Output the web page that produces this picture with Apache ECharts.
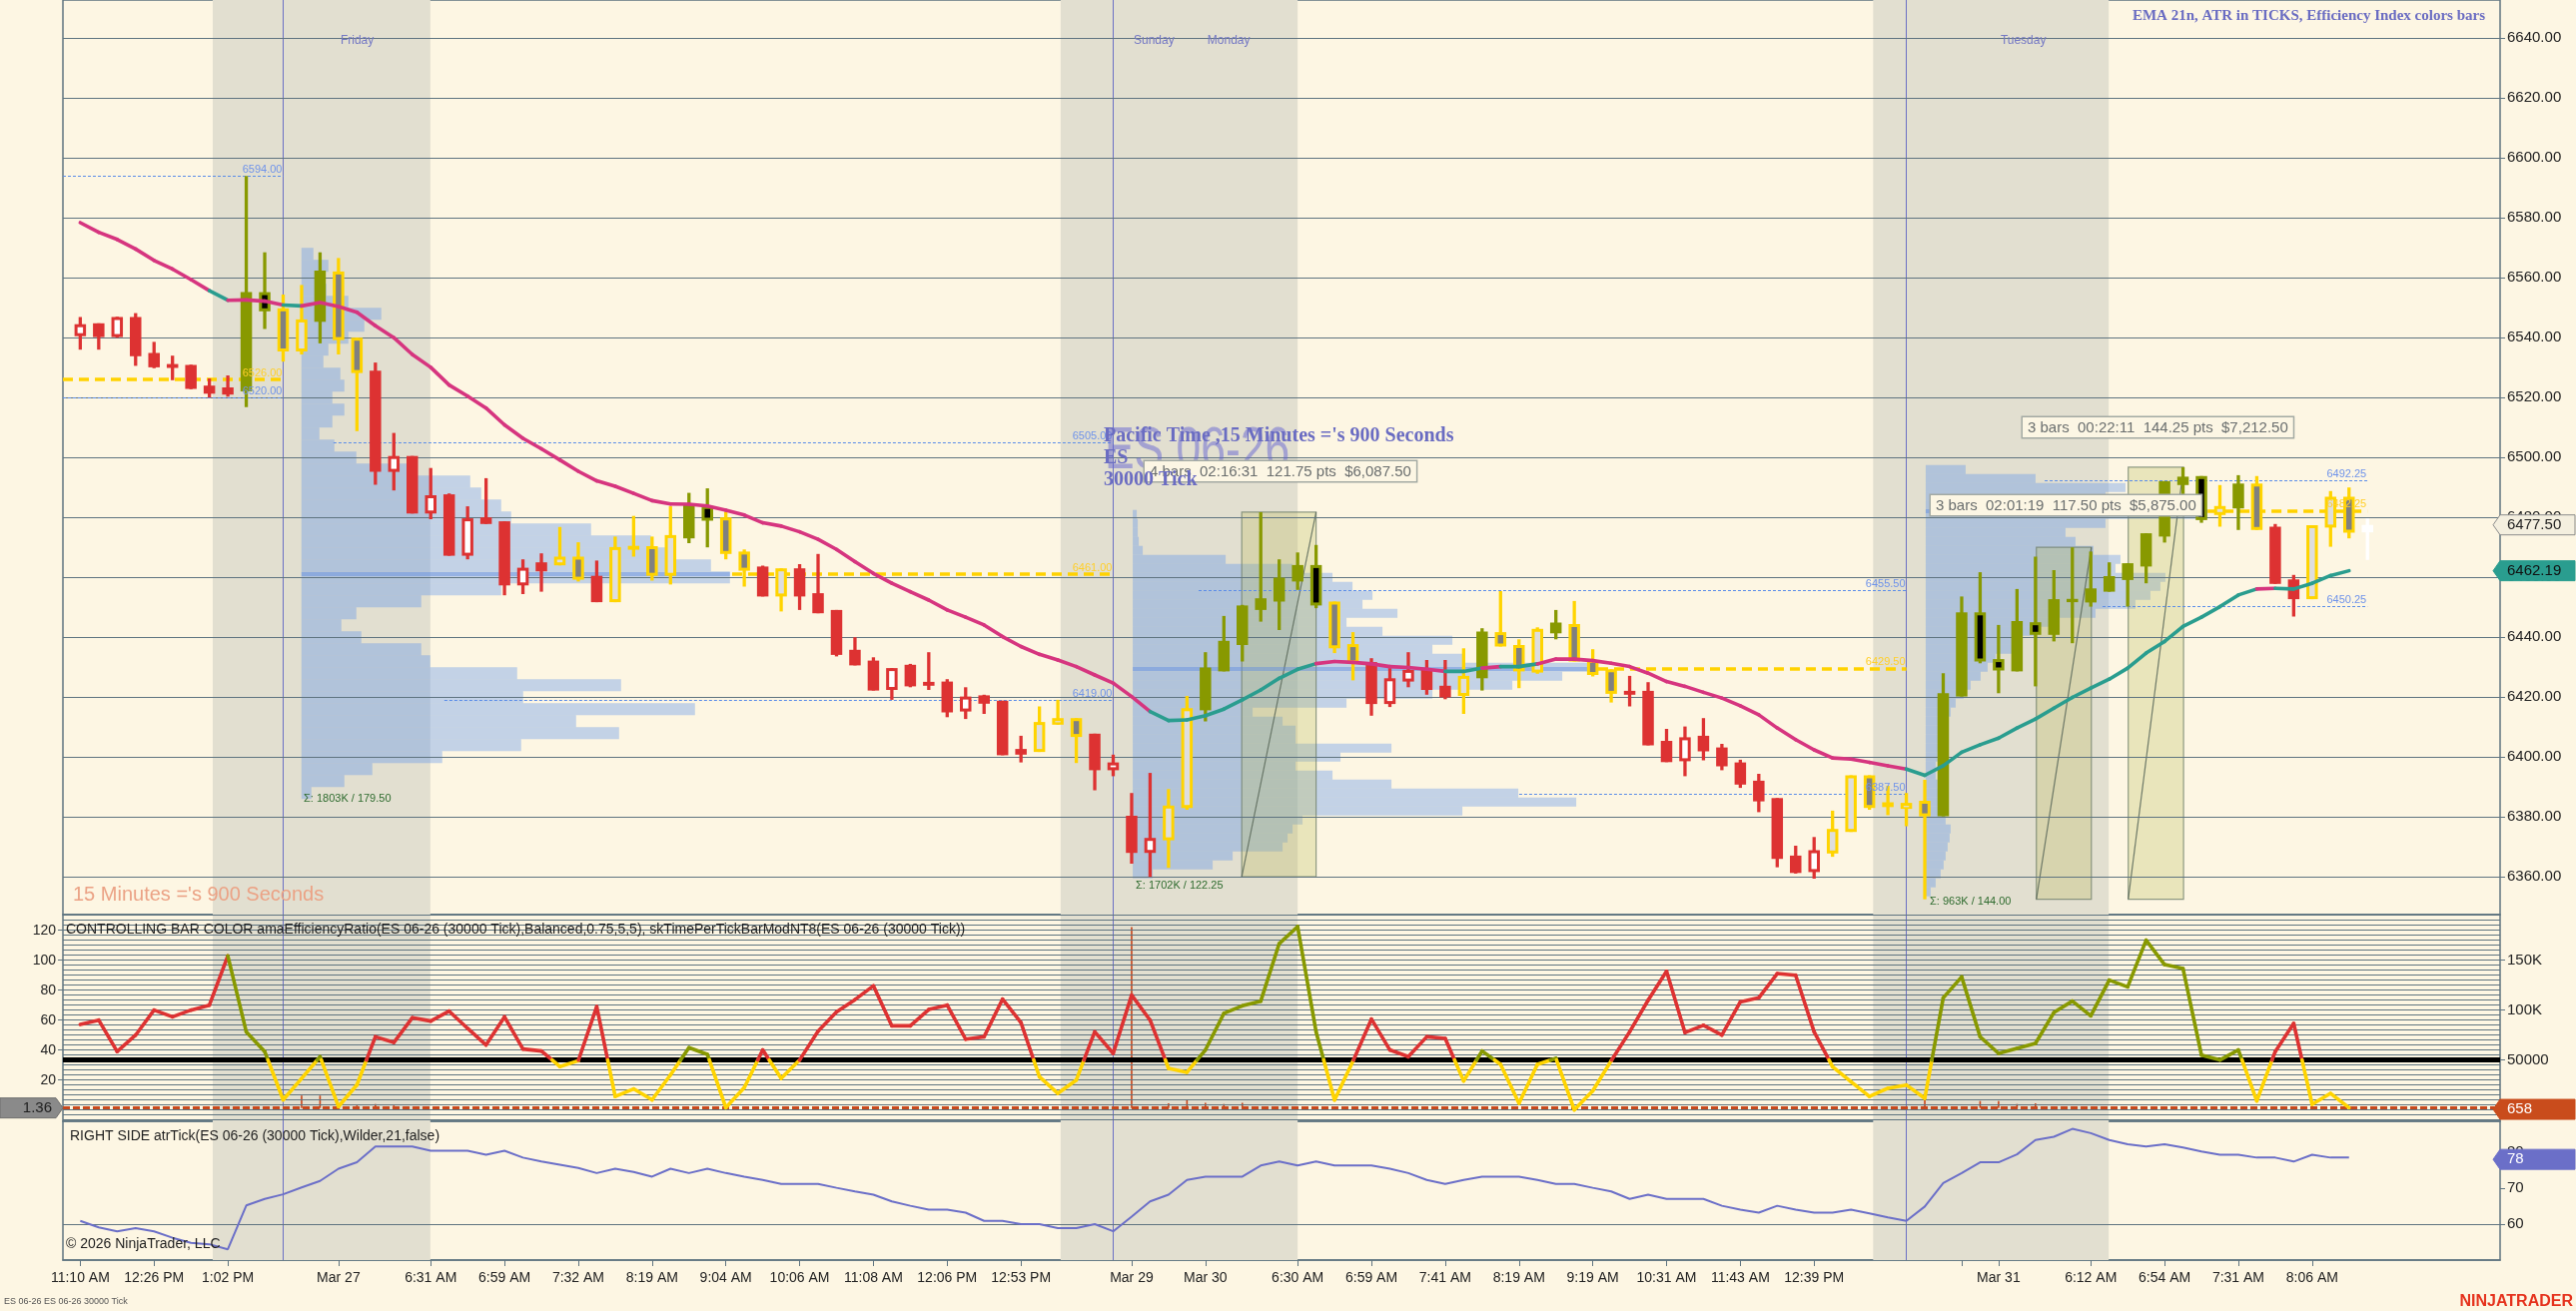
<!DOCTYPE html>
<html>
<head>
<meta charset="utf-8">
<title>ES 06-26 30000 Tick</title>
<script src="https://cdn.jsdelivr.net/npm/echarts@6/dist/echarts.min.js"></script>
<style>
html,body{margin:0;padding:0;background:#fdf6e3;overflow:hidden;}
#chart{width:2579px;height:1313px;}
</style>
</head>
<body>
<div id="chart"></div>
<script>
// ---------------- DATA ----------------
const opens = [6540.5,6544.8,6540.2,6546.9,6534.9,6531.2,6530.9,6524.0,6523.4,6522.1,
 6555.2,6549.8,6535.4,6545.3,6562.1,6540.0,6529.0,6495.2,6500.5,6481.3,
 6487.7,6467.2,6480.0,6478.7,6457.3,6465.0,6464.0,6466.9,6460.5,6451.7,
 6469.2,6470.4,6460.5,6473.0,6483.8,6480.0,6468.6,6463.6,6453.6,6463.0,
 6454.7,6449.1,6435.8,6432.2,6422.4,6430.8,6425.1,6425.2,6415.2,6420.6,
 6418.8,6402.7,6401.7,6410.8,6413.0,6407.8,6395.6,6380.4,6368.0,6372.2,
 6383.0,6415.6,6428.6,6437.4,6449.1,6451.9,6458.6,6464.1,6451.9,6437.7,
 6431.7,6417.7,6425.2,6429.1,6423.8,6420.4,6426.3,6441.7,6437.4,6428.2,
 6441.3,6444.4,6432.4,6429.3,6422.1,6422.1,6405.4,6398.6,6407.1,6403.2,
 6398.2,6392.1,6386.3,6367.1,6361.6,6367.8,6375.0,6393.9,6383.3,6382.7,
 6385.4,6380.2,6420.2,6448.3,6432.7,6428.6,6445.0,6440.8,6451.7,6451.6,
 6455.2,6459.1,6463.6,6473.6,6490.8,6493.8,6480.8,6483.0,6491.3,6476.9,
 6459.3,6452.7,6476.6,6486.9,6475.0];
const highs = [6546.9,6544.8,6547.0,6548.2,6538.6,6534.0,6531.0,6526.4,6527.4,6594.0,
 6568.5,6554.4,6557.6,6568.5,6566.6,6540.0,6531.7,6508.2,6500.5,6496.5,
 6488.0,6483.7,6493.1,6478.7,6466.0,6468.0,6476.8,6471.7,6465.6,6473.6,
 6480.5,6473.6,6483.7,6488.2,6489.7,6481.9,6469.3,6463.9,6463.0,6464.4,
 6467.8,6449.1,6440.0,6433.3,6429.7,6431.1,6435.0,6426.0,6423.3,6420.8,
 6418.8,6407.1,6416.9,6419.1,6413.0,6407.8,6400.8,6388.0,6394.7,6389.3,
 6420.4,6435.0,6447.1,6450.8,6481.75,6466.0,6468.3,6470.8,6451.9,6441.7,
 6433.0,6429.7,6435.0,6432.4,6432.4,6436.3,6443.0,6455.4,6439.3,6443.3,
 6449.1,6452.1,6436.0,6429.3,6427.1,6425.0,6409.4,6410.2,6413.0,6404.4,
 6399.1,6394.4,6386.3,6370.4,6373.3,6382.1,6393.9,6393.9,6390.4,6388.0,
 6392.4,6428.0,6453.6,6461.7,6444.1,6456.1,6466.9,6462.4,6470.0,6468.6,
 6465.0,6464.7,6474.7,6492.1,6496.75,6493.8,6490.8,6494.1,6493.8,6477.8,
 6460.8,6477.4,6488.8,6490.0,6479.7];
const lows = [6536.0,6536.0,6540.0,6530.6,6529.8,6525.8,6522.8,6520.0,6520.3,6516.8,
 6542.9,6532.0,6534.4,6538.1,6534.4,6508.8,6490.9,6489.0,6481.3,6479.4,
 6467.2,6466.0,6477.8,6454.0,6454.4,6455.2,6464.0,6458.6,6451.7,6451.7,
 6466.9,6458.9,6457.6,6471.4,6470.0,6466.0,6456.9,6453.6,6448.6,6449.1,
 6448.0,6433.6,6430.6,6422.2,6419.1,6423.3,6422.4,6413.3,6412.7,6414.4,
 6400.6,6398.2,6401.7,6410.8,6398.0,6388.9,6393.6,6364.4,6360.0,6363.0,
 6382.4,6411.9,6428.6,6431.9,6445.2,6442.4,6455.8,6449.7,6434.7,6425.6,
 6413.8,6416.7,6423.3,6420.8,6419.3,6414.4,6422.2,6436.9,6423.0,6427.8,
 6439.3,6431.9,6426.9,6418.2,6416.9,6403.9,6398.3,6393.6,6398.9,6395.6,
 6389.7,6381.6,6363.2,6361.1,6359.4,6366.7,6375.0,6382.4,6380.6,6376.9,
 6352.5,6380.2,6420.2,6431.3,6421.3,6428.6,6423.6,6438.6,6438.0,6450.2,
 6455.2,6450.2,6458.0,6471.6,6487.4,6478.2,6476.9,6475.8,6475.8,6457.8,
 6446.9,6452.7,6470.2,6473.0,6465.8];
const closes = [6544.5,6540.2,6546.9,6533.8,6530.1,6529.9,6522.9,6521.3,6521.0,6555.2,
 6548.8,6535.4,6546.1,6562.4,6539.2,6528.2,6495.2,6500.5,6481.3,6487.4,
 6467.2,6479.7,6477.8,6457.3,6463.2,6462.0,6466.9,6459.2,6451.7,6470.1,
 6470.5,6460.5,6474.1,6484.2,6478.9,6467.8,6462.2,6453.6,6463.0,6453.6,
 6448.0,6434.1,6430.6,6422.2,6429.7,6423.6,6423.8,6414.9,6420.2,6417.8,
 6400.6,6400.8,6411.7,6413.0,6406.7,6395.6,6398.2,6368.0,6373.0,6383.8,
 6416.3,6429.9,6438.8,6450.6,6453.0,6459.9,6464.1,6450.6,6436.3,6431.3,
 6417.7,6426.3,6429.1,6422.4,6419.9,6427.1,6441.9,6436.9,6428.6,6442.8,
 6444.9,6431.9,6427.4,6421.1,6420.8,6403.9,6398.3,6406.6,6401.9,6396.9,
 6390.8,6385.2,6366.0,6361.3,6368.9,6376.0,6393.9,6383.0,6384.9,6384.7,
 6380.2,6421.3,6448.3,6431.9,6428.9,6445.4,6440.8,6452.7,6452.8,6456.3,
 6460.4,6464.7,6474.7,6492.1,6493.6,6479.1,6483.8,6491.3,6475.8,6457.8,
 6452.7,6477.4,6486.9,6474.9,6477.5];
// bar colour from the efficiency index: r = red, y = yellow, g = olive, w = current bar
const barColors = ('rrrrrrrrr'+'gg'+'yy'+'g'+'yy'+'rrrrrrrrrr'+'yy'+'r'+'yyyy'+'gg'+'yy'+'r'+'y'+
  'rrrrrrrrrrrrr'+'yyy'+'rrrr'+'yy'+'ggggggg'+'yy'+'rrrrr'+'y'+'g'+'yyy'+'g'+'yyy'+
  'rrrrrrrrrrr'+'yyyyyy'+'ggggggggggggggg'+'y'+'g'+'y'+'rr'+'yyy'+'w').split('');
// EMA 21
const emaValues = [6578.4,6575.2,6572.8,6569.6,6565.8,6562.9,6559.4,6555.7,6552.5,6552.6,
 6552.2,6550.9,6550.6,6551.7,6550.4,6548.5,6544.0,6540.0,6534.4,6530.1,
 6524.2,6520.5,6516.5,6510.9,6506.4,6502.9,6499.2,6495.4,6492.2,6490.4,
 6488.0,6485.6,6484.5,6484.4,6483.8,6482.4,6480.8,6478.2,6477.1,6475.2,
 6472.7,6469.3,6465.2,6461.3,6458.0,6455.2,6452.4,6449.1,6446.7,6444.1,
 6440.2,6436.9,6434.3,6432.4,6430.2,6427.4,6424.7,6420.2,6415.2,6412.2,
 6412.4,6413.8,6416.0,6419.1,6422.4,6426.3,6429.3,6431.2,6431.9,6431.6,
 6431.1,6430.2,6429.9,6429.3,6428.6,6428.6,6429.7,6430.2,6430.2,6431.1,
 6432.7,6432.7,6432.2,6431.3,6430.2,6428.0,6425.2,6423.6,6421.6,6419.7,
 6417.1,6414.1,6409.7,6405.8,6402.4,6399.7,6399.3,6398.2,6397.1,6396.0,
 6393.9,6397.1,6401.6,6404.1,6406.3,6409.7,6412.7,6416.3,6419.9,6423.0,
 6426.0,6429.7,6434.7,6438.6,6443.6,6446.7,6450.2,6454.1,6456.1,6456.3,
 6456.1,6458.0,6460.6,6462.19];
// EMA segment colour (segment ending at bar i): m = magenta, t = teal
const emaColors = ('mmmmmmmmt'+'mmmt'+'mmmmmmmmmmmmmmmmmmmmmmmmmmmmmmmmmmmmmmmmmmmmmm'+
  'ttttttttt'+'mmmmmmm'+'tt'+'m'+'tt'+'mmmmmmmmmmmmmmmmmmmm'+'ttttttttttttttttttt'+'m'+'tttt').split('');
// amaEfficiencyRatio (left scale)
const effValues = [57.1,60,39,50,66.7,62.2,66.7,70,102.9,52.2,
 39,6.8,21.1,35.6,2.3,16.8,48.9,45.1,61.6,59.4,
 66,54.5,43.4,62.2,40.7,39.4,29,32.9,69,9,
 14.1,6.8,23.5,41.6,37.1,1.6,15,40.1,21.1,33.4,
 52.6,65.5,73.7,82.9,56.2,56.2,67.1,70,47.3,48.9,
 74,58.4,22.2,11.1,20,52.2,37.8,76.7,60,27.8,
 25.2,40.1,64.5,69.6,72.7,111.1,122.5,52.2,6.7,32.6,
 60.7,40.1,35.6,48.9,47.8,19.4,39.4,30.5,4.5,30.5,
 34.5,0.1,12.8,32.9,52.2,73.3,92.6,51.7,56.6,50,
 72.2,74.9,91.1,90,52.2,28.9,18.9,9,14.5,16.7,
 7.8,74.9,88.9,48.9,37.8,41.1,44.5,65.1,72.7,62.9,
 86.7,82.2,113.4,97.1,94.4,36.7,33.4,40.1,6.1,39,
 57.8,3.8,11.1,1.6];
const effThreshold = 33.33;
const effLevel = 1.36;
const spikeBars = [12,13,15,16,17,57,59,60,61,62,63,100,103,104,105,106];
const spikeValues = [9.6,9.6,3,4,3,122.2,4.4,6.8,4.8,4,4.8,8.2,6,6,4,4.4];
// atrTick (Wilder, 21)
const atrValues = [60.9,59.1,58,58.9,58,56.2,54.8,54.4,53,65.2,
 67,68.3,70.2,72,75.4,77.2,81.6,81.6,81.6,80.4,
 80.4,80.4,79.3,80.4,78.5,77.4,76.5,75.6,74.2,75.4,
 74.5,73.2,75.4,74.2,75.4,74.2,73.2,72.3,71.2,71.2,
 71.2,70.1,69.1,68.2,66.3,65.1,64,64,63.2,60.9,
 60.9,60,60,58.9,58.9,60,58,62.1,66.3,68.2,
 72.3,73.2,73.2,73.2,76.3,77.4,76.3,77.4,76.3,76.3,
 76.3,75.4,74.2,72.3,71.2,72.3,73.2,73.2,73.2,72.3,
 71.2,71.2,70.1,69.1,67,68.2,67,67,67,65.1,
 64,63.2,65.1,64,63.2,63.2,64,63,61.9,60.9,
 64.9,71.4,74.2,77.2,77.2,79.4,83.4,84.3,86.5,85.3,
 83.4,82.2,81.6,82.2,81.3,80.2,79.3,79.3,78.5,78.5,
 77.4,79.3,78.5,78.5];
// volume profiles (price level, relative volume)
const profile1Levels = [6388,6392,6396,6400,6404,6408,6412,6416,6420,6424,6428,6432,6436,6440,6444,6448,6452,6456,6460,6464,6468,6472,6476,6480,6484,6488,6492,6496,6500,6504,6508,6512,6516,6520,6524,6528,6532,6536,6540,6544,6548,6552,6556,6560,6564,6568];
const profile1Vol = [10,43,71,141,220,318,275,394,222,320,216,129,120,60,40,55,120,200,429,410,370,350,290,210,200,180,169,116,55,33,18,31,43,31,43,39,22,27,47,63,80,47,25,22,27,12];
const profile2Levels = [6361,6364,6367,6370,6373,6376,6379,6382,6385,6388,6391,6394,6397,6400,6403,6406,6409,6412,6415,6418,6421,6424,6427,6430,6433,6436,6439,6442,6445,6448,6451,6454,6457,6460,6463,6466,6469,6472,6475,6478,6481];
const profile2Vol = [20,80,100,150,155,160,170,330,444,386,259,200,163,208,259,163,163,150,120,214,300,380,430,466,330,300,320,250,214,265,230,240,220,200,160,93,10,6,5,5,4];
const profile3Levels = [6355,6358,6361,6364,6367,6370,6373,6376,6379,6382,6385,6388,6391,6394,6397,6400,6403,6406,6409,6412,6415,6418,6421,6424,6427,6430,6433,6436,6439,6442,6445,6448,6451,6454,6457,6460,6463,6466,6469,6472,6475,6478,6481,6484,6487,6490,6493,6496];
const profile3Vol = [5,10,15,18,20,22,24,25,20,18,16,14,12,10,10,12,14,15,18,20,25,30,38,45,55,62,70,90,97,110,130,170,210,225,235,240,190,195,168,150,140,180,282,182,180,200,110,40];
const profileStartBars = [11.99, 57.06, 100.05];
const profileRowSteps = [4, 3, 3];
const pocPrices = [6461, 6429.5, 6482.25];
const pocVols = [429, 466, 282];
const profileLabels = ['Σ: 1803K / 179.50', 'Σ: 1702K / 122.25', 'Σ: 963K / 144.00'];
// level lines: [price, fromBar, toBar]
const blueLines = [[6594,-0.94,11],[6520,-0.94,11],[6505,13.73,56],[6419,19.74,56],[6455.5,60.63,99],[6387.5,78.01,99],[6492.25,106.5,124],[6450.25,109.64,124]];
const yellowLines = [[6526,-0.94,11],[6461,35.34,56],[6429.5,82.29,99],[6482.25,115.33,124]];
// ruler drawings: [fromBar, toBar, low, high]
const drawings = [[62.97,67.0,6360.0,6481.75],[106.05,109.03,6352.5,6470.0],[111.03,114.03,6352.5,6496.75]];
const drawingLabels = ['4 bars  02:16:31  121.75 pts  $6,087.50','3 bars  02:01:19  117.50 pts  $5,875.00','3 bars  00:22:11  144.25 pts  $7,212.50'];
// sessions
const shadeRanges = [[7.18,18.98],[53.15,66.0],[97.2,109.97]];
const dayLines = [11, 56, 99];
const dayNames = ['Friday','Sunday','Monday','Tuesday'];
const dayBars = [14, 57, 61, 104];
// axes
const tickBars = [0,4,8,14,19,23,27,31,35,39,43,47,51,57,61,66,70,74,78,82,86,90,94,102,104,109,113,117,121];
const tickLabels = ['11:10 AM','12:26 PM','1:02 PM','Mar 27','6:31 AM','6:59 AM','7:32 AM','8:19 AM','9:04 AM','10:06 AM','11:08 AM','12:06 PM','12:53 PM','Mar 29','Mar 30','6:30 AM','6:59 AM','7:41 AM','8:19 AM','9:19 AM','10:31 AM','11:43 AM','12:39 PM','','Mar 31','6:12 AM','6:54 AM','7:31 AM','8:06 AM'];
const priceTicks = [6360,6380,6400,6420,6440,6460,6480,6500,6520,6540,6560,6580,6600,6620,6640];
const effTicks = [20,40,60,80,100,120];
const effRightTicks = [50000,100000,150000];
const atrInterval = 10;
const lastPrice = 6477.5, lastEma = 6462.19, lastEffRight = 658, lastAtr = 78;

// ---------------- STYLE ----------------
const XMIN = -0.94, XMAX = 131.19;
const PRICE_MIN = 6347.4, PRICE_MAX = 6652.73;
const EI_MIN = -7.53, EI_MAX = 130.47, EI_R = 1500;
const ATR_MIN = 50, ATR_MAX = 88.6;
const PX_PER_BAR = 18.466;
const SANS = '"Liberation Sans", Arial, sans-serif';
const SERIF = '"Liberation Serif", "Times New Roman", serif';
const GRID_C = '#5f7480';
const COLORS = {r:'#dd3232', y:'#ffd400', g:'#889900', w:'#ffffff'};
const EMA_C = {m:'#d6357f', t:'#2a9d8f'};

const chart = echarts.init(document.getElementById('chart'), null, {renderer:'canvas', width:2579, height:1313});

function renderCandle(params, api) {
  const i = api.value(0), o = api.value(1), h = api.value(2), l = api.value(3), c = api.value(4);
  const col = barColors[params.dataIndex];
  const main = COLORS[col];
  const pO = api.coord([i, o]), pC = api.coord([i, c]), pH = api.coord([i, h]), pL = api.coord([i, l]);
  const bw = 11.5, ww = 3.3, ow = 3;
  const x = pO[0];
  const top = Math.min(pO[1], pC[1]);
  const bh = Math.max(Math.abs(pO[1] - pC[1]), 3);
  const up = c >= o;
  const ch = [
    {type:'rect', shape:{x:x-ww/2, y:pH[1], width:ww, height:Math.max(pL[1]-pH[1],1)}, style:{fill:main}},
    {type:'rect', shape:{x:x-bw/2, y:top, width:bw, height:bh}, style:{fill:main}}
  ];
  let inner = null;
  if (col === 'r' && up) inner = '#ffffff';
  if (col === 'y') inner = up ? '#dedede' : '#808080';
  if (col === 'g' && !up) inner = '#000000';
  if (inner && bh >= 5) {
    ch.push({type:'rect', shape:{x:x-bw/2+ow, y:top+ow, width:bw-2*ow, height:Math.max(bh-2*ow,1.2)}, style:{fill:inner}});
  }
  return {type:'group', children:ch};
}

function renderSegments(colorFn) {
  return function(params, api) {
    const i = api.value(0), v0 = api.value(1), v1 = api.value(2);
    const p0 = api.coord([i-1, v0]), p1 = api.coord([i, v1]);
    const segs = colorFn(i, v0, v1, p0, p1, api);
    return {type:'group', children: segs.map(s => ({type:'line', shape:{x1:s[0][0], y1:s[0][1], x2:s[1][0], y2:s[1][1]}, style:{stroke:s[2], lineWidth:3.6, lineCap:'round'}}))};
  };
}
const renderEma = renderSegments(function(i, v0, v1, p0, p1){ return [[p0, p1, EMA_C[emaColors[i]]]]; });
const renderEff = renderSegments(function(i, v0, v1, p0, p1, api){
  const ty = api.coord([0, effThreshold])[1];
  const isRG = k => k === 'r' || k === 'g';
  const a0 = v0 >= effThreshold, a1 = v1 >= effThreshold;
  const cS = barColors[i-1], cE = barColors[i];
  let upK;
  if (a1) upK = isRG(cE) ? cE : (isRG(cS) ? cS : 'r');
  else upK = isRG(cS) ? cS : (isRG(cE) ? cE : 'r');
  const upC = COLORS[upK], loC = COLORS.y;
  if (a0 === a1) return [[p0, p1, a0 ? upC : loC]];
  const t = (ty - p0[1]) / (p1[1] - p0[1]);
  const m = [p0[0] + t * (p1[0] - p0[0]), ty];
  return [[p0, m, a0 ? upC : loC], [m, p1, a1 ? upC : loC]];
});

function renderProfile(params, api) {
  const s = api.value(0), p = api.value(1), v = api.value(2), st = api.value(3);
  const a = api.coord([s, p + st/2]);
  const b = api.coord([s + v / PX_PER_BAR, p - st/2]);
  return {type:'rect', shape:{x:a[0], y:a[1], width:b[0]-a[0], height:b[1]-a[1]}, style:{fill:'rgba(92,146,235,0.36)'}};
}
function renderDrawing(params, api) {
  const x1 = api.value(0), x2 = api.value(1), lo = api.value(2), hi = api.value(3);
  const a = api.coord([x1, hi]), b = api.coord([x2, lo]);
  const c0 = api.coord([x1, lo]), c1 = api.coord([x2, hi]);
  return {type:'group', children:[
    {type:'rect', shape:{x:a[0], y:a[1], width:b[0]-a[0], height:b[1]-a[1]}, style:{fill:'rgba(190,188,95,0.30)', stroke:'rgba(110,125,105,0.75)', lineWidth:1.2}},
    {type:'line', shape:{x1:c0[0], y1:c0[1], x2:c1[0], y2:c1[1]}, style:{stroke:'rgba(90,105,90,0.85)', lineWidth:1.2}}
  ]};
}
function renderSpike(params, api) {
  const i = api.value(0), v = api.value(1);
  const a = api.coord([i, effLevel]), b = api.coord([i, v]);
  return {type:'line', shape:{x1:a[0], y1:a[1], x2:b[0], y2:b[1]}, style:{stroke:'#c8441a', lineWidth:1.6}};
}

// build render data
const candleData = opens.map((o, i) => [i, o, highs[i], lows[i], closes[i]]);
const emaSegs = [];
for (let i = 1; i < emaValues.length; i++) emaSegs.push([i, emaValues[i-1], emaValues[i]]);
const effSegs = [];
for (let i = 1; i < effValues.length; i++) effSegs.push([i, effValues[i-1], effValues[i]]);
const profileData = [];
[[profile1Levels, profile1Vol], [profile2Levels, profile2Vol], [profile3Levels, profile3Vol]].forEach((pr, k) => {
  pr[0].forEach((lv, j) => profileData.push([profileStartBars[k], lv, pr[1][j], profileRowSteps[k]]));
});
const atrData = atrValues.map((v, i) => [i, v]);
const spikeData = spikeBars.map((b, k) => [b, spikeValues[k]]);

const gridLineStyle = {color:GRID_C, width:1.2, type:'solid'};
const helper = (xi, yi, extra) => Object.assign({type:'line', xAxisIndex:xi, yAxisIndex:yi, data:[], symbol:'none', silent:true, animation:false}, extra);
const shadeArea = {silent:true, label:{show:false}, itemStyle:{color:'#e2dfd0'}, data: shadeRanges.map(r => [{xAxis:r[0]}, {xAxis:r[1]}])};
const vLines = {silent:true, symbol:['none','none'], label:{show:false}, lineStyle:{color:'#6b70c4', width:1, type:'solid'}, data: dayLines.map(b => ({xAxis:b}))};

const effGridVals = [];
for (let v = -10000; v <= 195000; v += 5000) effGridVals.push(v);

function levelLine(l, color, width, dash, labelColor) {
  const lab = {show:true, position:'insideEndTop', formatter:l[0].toFixed(2), color:labelColor, fontSize:11, fontFamily:SANS, distance:1};
  const ls = {color:color, width:width, type:dash};
  return [{coord:[l[1], l[0]], lineStyle:ls, label:lab}, {coord:[l[2], l[0]], lineStyle:ls, label:lab}];
}

const xAxes = [0,1,2].map(k => ({
  type:'value', gridIndex:k, min:XMIN, max:XMAX, show:k === 2,
  axisLine:{show:k === 2, onZero:false, lineStyle:{color:GRID_C, width:1.5}},
  axisTick:{show:k === 2, customValues:tickBars, length:6, lineStyle:{color:GRID_C}},
  axisLabel:{show:k === 2, customValues:tickBars, hideOverlap:false, color:'#222', fontSize:14, fontFamily:SANS, margin:11,
    formatter: v => { const j = tickBars.indexOf(Math.round(v)); return j >= 0 ? tickLabels[j] : ''; }},
  splitLine:{show:false}
}));

const option = {
  animation:false,
  backgroundColor:'#fdf6e3',
  grid:[
    {left:63, top:0, width:2440, height:916},
    {left:63, top:916, width:2440, height:207},
    {left:63, top:1123, width:2440, height:139}
  ].map(g => Object.assign({show:true, borderColor:GRID_C, borderWidth:1.5, backgroundColor:'transparent'}, g)),
  xAxis: xAxes,
  yAxis:[
    {type:'value', gridIndex:0, position:'right', min:PRICE_MIN, max:PRICE_MAX, axisLine:{show:false, onZero:false},
     axisTick:{show:true, customValues:priceTicks, length:5, lineStyle:{color:GRID_C}},
     axisLabel:{customValues:priceTicks, formatter:v => v.toFixed(2), color:'#222', fontSize:15, fontFamily:SANS, margin:7}, splitLine:{show:false}},
    {type:'value', gridIndex:1, position:'left', min:EI_MIN, max:EI_MAX, axisLine:{show:false, onZero:false},
     axisTick:{show:true, customValues:effTicks, length:5, lineStyle:{color:GRID_C}},
     axisLabel:{customValues:effTicks, color:'#222', fontSize:14, fontFamily:SANS, margin:7}, splitLine:{show:false}},
    {type:'value', gridIndex:1, position:'right', min:EI_MIN*EI_R, max:EI_MAX*EI_R, axisLine:{show:false, onZero:false},
     axisTick:{show:true, customValues:effRightTicks, length:5, lineStyle:{color:GRID_C}},
     axisLabel:{customValues:effRightTicks, formatter:v => v === 50000 ? '50000' : (v/1000) + 'K', color:'#222', fontSize:15, fontFamily:SANS, margin:7}, splitLine:{show:false}},
    {type:'value', gridIndex:2, position:'right', min:ATR_MIN, max:ATR_MAX, interval:atrInterval, axisLine:{show:false, onZero:false},
     axisTick:{show:true, length:5, lineStyle:{color:GRID_C}},
     axisLabel:{showMinLabel:false, showMaxLabel:false, formatter:v => (v > ATR_MIN && v < ATR_MAX) ? String(v) : '', color:'#222', fontSize:15, fontFamily:SANS, margin:7}, splitLine:{show:false}}
  ],
  series:[
    // session shading + day separators
    helper(0, 0, {z:1, markArea:shadeArea, markLine:vLines}),
    helper(1, 1, {z:1, markArea:shadeArea, markLine:vLines}),
    helper(2, 3, {z:1, markArea:shadeArea, markLine:vLines}),
    // grid lines
    helper(0, 0, {z:2, markLine:{silent:true, symbol:['none','none'], label:{show:false}, lineStyle:gridLineStyle, data:priceTicks.map(v => ({yAxis:v}))}}),
    helper(1, 2, {z:2, markLine:{silent:true, symbol:['none','none'], label:{show:false}, lineStyle:{color:GRID_C, width:1, type:'solid'}, data:effGridVals.map(v => ({yAxis:v}))}}),
    helper(2, 3, {z:2, markLine:{silent:true, symbol:['none','none'], label:{show:false}, lineStyle:gridLineStyle, data:[{yAxis:60}]}}),
    // volume profiles
    {type:'custom', xAxisIndex:0, yAxisIndex:0, z:3, silent:true, clip:true, renderItem:renderProfile, encode:{x:0, y:1}, data:profileData},
    helper(0, 0, {z:3, markLine:{silent:true, symbol:['none','none'], label:{show:false}, lineStyle:{color:'rgba(95,140,225,0.45)', width:4, type:'solid'},
      data: pocPrices.map((p, k) => [{coord:[profileStartBars[k], p]}, {coord:[profileStartBars[k] + pocVols[k]/PX_PER_BAR, p]}])}}),
    // ruler drawings
    {type:'custom', xAxisIndex:0, yAxisIndex:0, z:4, silent:true, clip:true, renderItem:renderDrawing, encode:{x:[0,1], y:[2,3]}, data:drawings},
    // candles
    {type:'custom', xAxisIndex:0, yAxisIndex:0, z:5, silent:true, clip:true, renderItem:renderCandle, encode:{x:0, y:[1,2,3,4]}, data:candleData},
    // level lines
    helper(0, 0, {z:6, markLine:{silent:true, symbol:['none','none'],
      data: blueLines.map(l => levelLine(l, '#5b8de8', 1, [3,2], '#6f93ea')).concat(yellowLines.map(l => levelLine(l, '#ffd200', 3.5, [10,6], '#ffcf2a')))}}),
    // EMA
    {type:'custom', xAxisIndex:0, yAxisIndex:0, z:7, silent:true, clip:true, renderItem:renderEma, encode:{x:0, y:[1,2]}, data:emaSegs},
    // efficiency panel
    helper(1, 1, {z:3, markLine:{silent:true, symbol:['none','none'], label:{show:false}, data:[
      {yAxis:effThreshold, lineStyle:{color:'#000', width:5, type:'solid'}},
      {yAxis:effLevel, lineStyle:{color:'#c8481c', width:3, type:[7,3]}}
    ]}}),
    {type:'custom', xAxisIndex:1, yAxisIndex:1, z:4, silent:true, clip:true, renderItem:renderSpike, encode:{x:0, y:1}, data:spikeData},
    {type:'custom', xAxisIndex:1, yAxisIndex:1, z:5, silent:true, clip:true, renderItem:renderEff, encode:{x:0, y:[1,2]}, data:effSegs},
    // ATR
    {type:'line', xAxisIndex:2, yAxisIndex:3, z:5, silent:true, symbol:'none', data:atrData, lineStyle:{color:'#6b6fc8', width:2}}
  ]
};
chart.setOption(option);

// ---------------- overlays ----------------
const X = b => chart.convertToPixel({xAxisIndex:0}, b);
const Y = (idx, v) => chart.convertToPixel({yAxisIndex:idx}, v);
const g = [];
function txt(text, x, y, font, fill, align, vAlign, extra) {
  return Object.assign({type:'text', z:50, silent:true, style:{text:text, x:x, y:y, font:font, fill:fill, textAlign:align || 'left', textVerticalAlign:vAlign || 'top'}}, extra || {});
}
function rightMarker(y, text, fill, stroke, color) {
  g.push({type:'polygon', z:60, silent:true, shape:{points:[[2496,y],[2503,y-10],[2578,y-10],[2578,y+10],[2503,y+10]]}, style:{fill:fill, stroke:stroke, lineWidth:1}});
  g.push(txt(text, 2510, y, '15px ' + SANS, color, 'left', 'middle', {z:61}));
}
// day names
dayNames.forEach((d, k) => g.push(txt(d, X(dayBars[k]) + 2, 35, '12px ' + SANS, '#7478c4')));
// titles
g.push(txt('EMA 21n, ATR in TICKS, Efficiency Index colors bars', 2488, 9, 'bold 15px ' + SERIF, '#6a6cc2', 'right'));
g.push({type:'text', z:45, silent:true, x:1106, y:422, scaleX:0.74, style:{text:'ES 06-26', x:0, y:0, font:'60px ' + SANS, fill:'rgba(100,100,210,0.5)', textAlign:'left', textVerticalAlign:'top'}});
// drawing labels
const dlPos = [[1146,462],[1933,496],[2025,418]];
drawingLabels.forEach((t, k) => g.push({type:'text', z:48, silent:true,
  style:{text:t, x:dlPos[k][0], y:dlPos[k][1], font:'15px ' + SANS, fill:'#6a6e6e', textAlign:'left', textVerticalAlign:'top', backgroundColor:'#fcf6e4', borderColor:'#a3aaa3', borderWidth:1.5, padding:[3,5,2,5]}}));
g.push(txt('Pacific Time ,15 Minutes =\'s 900 Seconds', 1105, 427, 'bold 20px ' + SERIF, '#6a6cc2'));
g.push(txt('ES', 1105, 449, 'bold 20px ' + SERIF, '#6a6cc2'));
g.push(txt('30000 Tick', 1105, 471, 'bold 20px ' + SERIF, '#6a6cc2'));
g.push(txt('15 Minutes =\'s 900 Seconds', 73, 886, '20px ' + SANS, '#eba285'));
// profile totals
const plPos = [[304,800],[1137,887],[1932,903]];
profileLabels.forEach((t, k) => g.push(txt(t, plPos[k][0], plPos[k][1], '11px ' + SANS, '#2e6b2e', 'left', 'middle')));
// panel titles
g.push(txt('CONTROLLING BAR COLOR amaEfficiencyRatio(ES 06-26 (30000 Tick),Balanced,0.75,5,5), skTimePerTickBarModNT8(ES 06-26 (30000 Tick))', 66, 924, '14px ' + SANS, '#1e1e1e'));
g.push(txt('RIGHT SIDE atrTick(ES 06-26 (30000 Tick),Wilder,21,false)', 70, 1131, '14px ' + SANS, '#1e1e1e'));
g.push(txt('\u00a9 2026 NinjaTrader, LLC', 66, 1239, '14px ' + SANS, '#1e1e1e'));
g.push(txt('ES 06-26 ES 06-26 30000 Tick', 4, 1304, '9px ' + SANS, '#555', 'left', 'middle'));
g.push(txt('NINJATRADER', 2576, 1304, 'bold 16px ' + SANS, '#e5321d', 'right', 'middle'));
// value markers
rightMarker(Y(0, lastPrice), lastPrice.toFixed(2), '#f4efdf', '#8c8c8c', '#222');
rightMarker(Y(0, lastEma), lastEma.toFixed(2), '#2a9d8f', '#2a9d8f', '#111');
rightMarker(Y(2, lastEffRight), String(lastEffRight), '#c94c1c', '#c94c1c', '#fff');
rightMarker(Y(3, lastAtr), String(lastAtr), '#6b6fc8', '#6b6fc8', '#fff');
const yl = Y(1, effLevel);
g.push({type:'polygon', z:60, silent:true, shape:{points:[[0,yl-10],[56,yl-10],[63,yl],[56,yl+10],[0,yl+10]]}, style:{fill:'#8a8a8a', stroke:'#6e6e6e', lineWidth:1}});
g.push(txt(String(effLevel), 52, yl, '15px ' + SANS, '#1e1e1e', 'right', 'middle', {z:61}));
chart.setOption({graphic:{elements:g}});
</script>
</body>
</html>
